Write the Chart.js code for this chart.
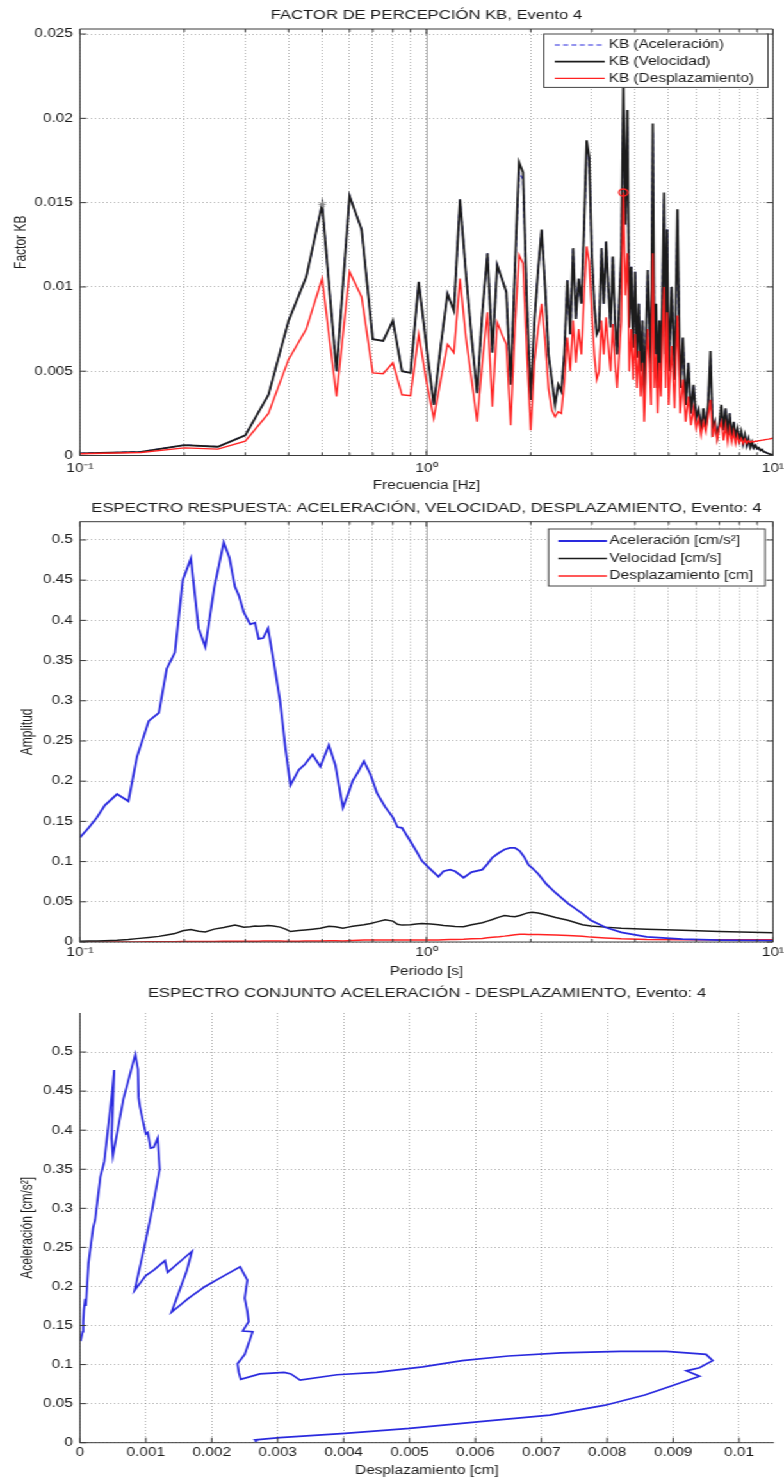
<!DOCTYPE html>
<html>
<head>
<meta charset="utf-8">
<script src="https://cdn.jsdelivr.net/npm/chart.js@4"></script>
<style>
  html, body { margin: 0; padding: 0; background: #fff; }
  /* la figura original está estirada en horizontal: se dibuja a 612px y se escala */
  #figura { position: absolute; left: 0; top: 0; width: 612px; height: 1477px; transform: scaleX(1.281); transform-origin: 0 0; }
  #figura canvas { position: absolute; left: 0; }
</style>
</head>
<body>
<div id="figura">
  <canvas id="kb" width="612" height="494" style="top:0px"></canvas>
  <canvas id="espectro" width="612" height="486" style="top:494px"></canvas>
  <canvas id="conjunto" width="612" height="497" style="top:980px"></canvas>
</div>
<script>
//-------------------------------------Datos: factor KB, Evento 4-------------------------------------
const freqHz = [
  0.10, 0.15, 0.20, 0.25, 0.30, 0.35, 0.40, 0.45, 0.50, 0.55,
  0.60, 0.65, 0.70, 0.75, 0.80, 0.85, 0.90, 0.95, 1.00, 1.05,
  1.10, 1.15, 1.20, 1.25, 1.30, 1.35, 1.40, 1.45, 1.50, 1.55,
  1.60, 1.65, 1.70, 1.75, 1.80, 1.85, 1.90, 1.95, 2.00, 2.05,
  2.10, 2.15, 2.20, 2.25, 2.30, 2.35, 2.40, 2.45, 2.50, 2.55,
  2.60, 2.65, 2.70, 2.75, 2.80, 2.85, 2.90, 2.95, 3.00, 3.05,
  3.10, 3.15, 3.20, 3.25, 3.30, 3.35, 3.40, 3.45, 3.50, 3.55,
  3.60, 3.65, 3.70, 3.75, 3.80, 3.85, 3.90, 3.95, 4.00, 4.05,
  4.10, 4.15, 4.20, 4.25, 4.30, 4.35, 4.40, 4.45, 4.50, 4.55,
  4.60, 4.65, 4.70, 4.75, 4.80, 4.85, 4.90, 4.95, 5.00,
  5.1, 5.2, 5.3, 5.4, 5.5, 5.6, 5.7, 5.8, 5.9, 6.0,
  6.1, 6.2, 6.3, 6.4, 6.5, 6.6, 6.7, 6.8, 6.9, 7.0,
  7.1, 7.2, 7.3, 7.4, 7.5, 7.6, 7.7, 7.8, 7.9, 8.0,
  8.1, 8.2, 8.3, 8.4, 8.5, 8.6, 8.7, 8.8, 8.9, 9.0,
  9.1, 9.2, 9.3, 9.4, 9.5, 9.6, 9.7, 9.8, 9.9, 10.0
];
const kbAceleracion = [
  0.00013, 0.00022, 0.00062, 0.00052, 0.00120, 0.00360, 0.00800, 0.01060, 0.01490, 0.00500,
  0.01540, 0.01340, 0.00690, 0.00680, 0.00800, 0.00500, 0.00490, 0.01030, 0.00650, 0.00300,
  0.00650, 0.00960, 0.00860, 0.01520, 0.01080, 0.00700, 0.00370, 0.00850, 0.01200, 0.00610,
  0.01130, 0.01050, 0.00970, 0.00420, 0.01100, 0.01680, 0.01640, 0.00900, 0.00330, 0.00800,
  0.01100, 0.01340, 0.01000, 0.00600, 0.00450, 0.00300, 0.00420, 0.00380, 0.00600, 0.01040,
  0.00720, 0.01230, 0.00810, 0.01050, 0.00900, 0.01350, 0.01820, 0.01770, 0.01200, 0.00900,
  0.00720, 0.00750, 0.01230, 0.00900, 0.01270, 0.01000, 0.00760, 0.01180, 0.00800, 0.00600,
  0.00900, 0.01200, 0.02050, 0.01370, 0.01950, 0.00760, 0.01120, 0.00640, 0.01090, 0.00580,
  0.00900, 0.00500, 0.00800, 0.00350, 0.00700, 0.01100, 0.00800, 0.00500, 0.01920, 0.00600,
  0.00900, 0.00400, 0.00800, 0.00500, 0.01000, 0.01520, 0.00600, 0.01340, 0.00500,
  0.01000, 0.00450, 0.01400, 0.00400, 0.00700, 0.00300, 0.00550, 0.00250, 0.00420, 0.00220,
  0.00270, 0.00150, 0.00280, 0.00160, 0.00300, 0.00580, 0.00150, 0.00200, 0.00110, 0.00180,
  0.00260, 0.00150, 0.00280, 0.00120, 0.00250, 0.00100, 0.00200, 0.00110, 0.00160, 0.00090,
  0.00140, 0.00070, 0.00120, 0.00060, 0.00100, 0.00050, 0.00080, 0.00045, 0.00060, 0.00040,
  0.00045, 0.00030, 0.00035, 0.00022, 0.00020, 0.00015, 0.00012, 0.00008, 0.00005, 0.00002
];
const kbVelocidad = [
  0.00013, 0.00022, 0.00062, 0.00052, 0.00120, 0.00360, 0.00800, 0.01060, 0.01490, 0.00500,
  0.01540, 0.01340, 0.00690, 0.00680, 0.00800, 0.00500, 0.00490, 0.01030, 0.00650, 0.00300,
  0.00650, 0.00960, 0.00860, 0.01520, 0.01080, 0.00700, 0.00370, 0.00850, 0.01200, 0.00610,
  0.01130, 0.01050, 0.00970, 0.00420, 0.01100, 0.01740, 0.01680, 0.00900, 0.00330, 0.00800,
  0.01100, 0.01340, 0.01000, 0.00600, 0.00450, 0.00300, 0.00420, 0.00380, 0.00600, 0.01040,
  0.00720, 0.01230, 0.00810, 0.01050, 0.00900, 0.01350, 0.01870, 0.01770, 0.01200, 0.00900,
  0.00720, 0.00750, 0.01230, 0.00900, 0.01270, 0.01000, 0.00760, 0.01180, 0.00800, 0.00600,
  0.00900, 0.01200, 0.02220, 0.01370, 0.02050, 0.00760, 0.01120, 0.00640, 0.01090, 0.00580,
  0.00900, 0.00500, 0.00800, 0.00350, 0.00700, 0.01100, 0.00800, 0.00500, 0.01970, 0.00600,
  0.00900, 0.00400, 0.00800, 0.00500, 0.01000, 0.01560, 0.00600, 0.01340, 0.00500,
  0.01000, 0.00450, 0.01460, 0.00400, 0.00700, 0.00300, 0.00550, 0.00250, 0.00420, 0.00220,
  0.00270, 0.00150, 0.00280, 0.00160, 0.00300, 0.00620, 0.00150, 0.00200, 0.00110, 0.00180,
  0.00300, 0.00150, 0.00280, 0.00120, 0.00250, 0.00100, 0.00200, 0.00110, 0.00160, 0.00090,
  0.00140, 0.00070, 0.00120, 0.00060, 0.00100, 0.00050, 0.00080, 0.00045, 0.00060, 0.00040,
  0.00045, 0.00030, 0.00035, 0.00022, 0.00020, 0.00015, 0.00012, 0.00008, 0.00005, 0.00002
];
const kbDesplazamiento = [
  0.00010, 0.00018, 0.00045, 0.00038, 0.00085, 0.00250, 0.00570, 0.00750, 0.01050, 0.00350,
  0.01090, 0.00940, 0.00490, 0.00485, 0.00550, 0.00360, 0.00355, 0.00720, 0.00440, 0.00220,
  0.00450, 0.00660, 0.00610, 0.01050, 0.00700, 0.00450, 0.00200, 0.00550, 0.00850, 0.00290,
  0.00790, 0.00720, 0.00660, 0.00180, 0.00750, 0.01190, 0.01140, 0.00600, 0.00150, 0.00550,
  0.00750, 0.00900, 0.00680, 0.00400, 0.00270, 0.00230, 0.00260, 0.00250, 0.00430, 0.00700,
  0.00500, 0.00800, 0.00550, 0.00750, 0.00600, 0.00950, 0.01240, 0.01150, 0.00850, 0.00600,
  0.00450, 0.00500, 0.00800, 0.00600, 0.00820, 0.00650, 0.00500, 0.00780, 0.00550, 0.00400,
  0.00600, 0.00800, 0.01560, 0.00950, 0.01200, 0.00500, 0.00750, 0.00450, 0.00720, 0.00400,
  0.00620, 0.00350, 0.00550, 0.00200, 0.00500, 0.00750, 0.00550, 0.00300, 0.01200, 0.00400,
  0.00600, 0.00250, 0.00550, 0.00350, 0.00700, 0.01000, 0.00400, 0.00850, 0.00300,
  0.00650, 0.00280, 0.00830, 0.00250, 0.00450, 0.00200, 0.00350, 0.00180, 0.00280, 0.00160,
  0.00220, 0.00120, 0.00200, 0.00140, 0.00230, 0.00330, 0.00110, 0.00180, 0.00090, 0.00160,
  0.00200, 0.00090, 0.00180, 0.00080, 0.00160, 0.00080, 0.00140, 0.00070, 0.00120, 0.00075,
  0.00100, 0.00070, 0.00095, 0.00072, 0.00088, 0.00078, 0.00085, 0.00080, 0.00086, 0.00084,
  0.00088, 0.00089, 0.00091, 0.00092, 0.00094, 0.00096, 0.00097, 0.00099, 0.00101, 0.00103
];

//-------------------------------------Datos: espectro de respuesta-------------------------------------
const periodoS = [
  0.100, 0.106, 0.112, 0.118, 0.128, 0.138, 0.146, 0.158, 0.169, 0.178,
  0.188, 0.198, 0.209, 0.220, 0.230, 0.244, 0.260, 0.270, 0.280, 0.288,
  0.297, 0.310, 0.320, 0.328, 0.338, 0.349, 0.362, 0.378, 0.392, 0.405,
  0.428, 0.446, 0.469, 0.494, 0.523, 0.546, 0.574, 0.595, 0.612, 0.636,
  0.660, 0.690, 0.720, 0.760, 0.800, 0.825, 0.850, 0.900, 0.935, 0.970,
  1.030, 1.083, 1.120, 1.170, 1.210, 1.280, 1.350, 1.450, 1.500, 1.550,
  1.620, 1.680, 1.740, 1.800, 1.860, 1.920, 1.970, 2.020, 2.100, 2.220,
  2.360, 2.560, 2.820, 2.980, 3.280, 3.650, 4.320, 5.480, 7.000, 10.00
];
const espAceleracion = [
  0.130, 0.142, 0.155, 0.170, 0.184, 0.175, 0.230, 0.275, 0.285, 0.340,
  0.360, 0.450, 0.477, 0.390, 0.367, 0.440, 0.497, 0.478, 0.442, 0.430,
  0.410, 0.395, 0.397, 0.377, 0.378, 0.390, 0.350, 0.300, 0.240, 0.195,
  0.214, 0.221, 0.233, 0.218, 0.245, 0.220, 0.167, 0.185, 0.200, 0.212,
  0.225, 0.208, 0.185, 0.168, 0.155, 0.143, 0.142, 0.125, 0.113, 0.101,
  0.090, 0.081, 0.088, 0.090, 0.088, 0.080, 0.087, 0.090, 0.097, 0.105,
  0.111, 0.115, 0.117, 0.117, 0.113, 0.105, 0.096, 0.092, 0.085, 0.072,
  0.061, 0.048, 0.0354, 0.0269, 0.0183, 0.0119, 0.0064, 0.0035, 0.0024, 0.0016
];
const espVelocidad = [
  0.0010, 0.0011, 0.0013, 0.0016, 0.0022, 0.0030, 0.0042, 0.0056, 0.0070, 0.0088,
  0.0105, 0.0140, 0.0155, 0.0135, 0.0125, 0.0160, 0.0180, 0.0195, 0.0210, 0.0200,
  0.0185, 0.0190, 0.0200, 0.0195, 0.0200, 0.0205, 0.0200, 0.0185, 0.0160, 0.0130,
  0.0142, 0.0150, 0.0160, 0.0170, 0.0195, 0.0190, 0.0170, 0.0185, 0.0195, 0.0205,
  0.0215, 0.0230, 0.0250, 0.0275, 0.0260, 0.0220, 0.0210, 0.0215, 0.0225, 0.0230,
  0.0225, 0.0215, 0.0205, 0.0198, 0.0193, 0.0190, 0.0215, 0.0240, 0.0260, 0.0280,
  0.0310, 0.0330, 0.0320, 0.0315, 0.0330, 0.0350, 0.0365, 0.0370, 0.0360, 0.0335,
  0.0305, 0.0270, 0.0215, 0.0200, 0.0185, 0.0172, 0.0160, 0.0145, 0.0130, 0.0115
];
const espDesplazamiento = [
  0.00001, 0.00004, 0.00005, 0.00006, 0.00008, 0.00009, 0.00013, 0.00020, 0.00023, 0.00031,
  0.00037, 0.00049, 0.00052, 0.00048, 0.00050, 0.00066, 0.00084, 0.00088, 0.00089, 0.00091,
  0.00096, 0.00100, 0.00103, 0.00107, 0.00112, 0.00118, 0.00121, 0.00110, 0.00095, 0.00083,
  0.00100, 0.00112, 0.00129, 0.00133, 0.00170, 0.00162, 0.00139, 0.00165, 0.00190, 0.00215,
  0.00243, 0.00254, 0.00250, 0.00254, 0.00256, 0.00247, 0.00262, 0.00255, 0.00250, 0.00239,
  0.00241, 0.00244, 0.00273, 0.00310, 0.00320, 0.00334, 0.00390, 0.00450, 0.00520, 0.00580,
  0.00650, 0.00730, 0.00820, 0.00890, 0.00950, 0.00960, 0.00940, 0.00920, 0.00940, 0.00895,
  0.00857, 0.00797, 0.00713, 0.00607, 0.00500, 0.00402, 0.00303, 0.00266, 0.00268, 0.00265
];

//-------------------------------------Ticks-------------------------------------
const LOG_TICKS = [0.1, 0.2, 0.3, 0.4, 0.5, 0.6, 0.7, 0.8, 0.9, 1, 2, 3, 4, 5, 6, 7, 8, 9, 10];
const LOG_LABELS = { 0.1: '10⁻¹', 1: '10⁰', 10: '10¹' };
const KB_TICKS = [0, 0.005, 0.01, 0.015, 0.02, 0.025];
const AMP_TICKS = [0, 0.05, 0.1, 0.15, 0.2, 0.25, 0.3, 0.35, 0.4, 0.45, 0.5];
const DESP_TICKS = [0, 0.001, 0.002, 0.003, 0.004, 0.005, 0.006, 0.007, 0.008, 0.009, 0.01];

const FONT = "'Liberation Sans', Arial, Helvetica, sans-serif";
const INK = '#1a1a1a';
const GRID = 'rgba(0,0,0,0.30)';
const AXIS_W = 62.4;
const AZUL = '#2a2ade', NEGRO = '#1c1c1c', ROJO = '#ff2222';

const tickFont = { family: FONT, size: 12, lineHeight: 1 };
const numLabel = v => String(parseFloat(Number(v).toFixed(4)));

function pares(xs, ys) {
  return xs.map((x, i) => ({ x: x, y: ys[i] }));
}

//-------------------------------------Ejes-------------------------------------
function ejeLog(titulo, tickPad, alto, titlePad) {
  return {
    type: 'logarithmic', min: 0.1, max: 10,
    afterBuildTicks: s => { s.ticks = LOG_TICKS.map(v => ({ value: v })); },
    afterFit: s => { s.height = alto; s.paddingLeft = 0; s.paddingRight = 0; },
    ticks: { autoSkip: false, maxRotation: 0, padding: tickPad, color: INK, font: tickFont,
             callback: v => LOG_LABELS[v] || '' },
    grid: { color: GRID, lineWidth: 1, drawTicks: false },
    border: { display: false, dash: [1, 2] },
    title: { display: true, text: titulo, color: INK, font: tickFont, padding: { top: 0, bottom: titlePad } }
  };
}

function ejeLineal(min, max, ticksArr, titulo, titlePad) {
  return {
    type: 'linear', min: min, max: max,
    afterBuildTicks: s => { s.ticks = ticksArr.map(v => ({ value: v })); },
    afterFit: s => { s.width = AXIS_W; s.paddingTop = 0; s.paddingBottom = 0; },
    ticks: { autoSkip: false, padding: 5.5, color: INK, font: tickFont, callback: numLabel },
    grid: { color: GRID, lineWidth: 1, drawTicks: false },
    border: { display: false, dash: [1, 2] },
    title: { display: true, text: titulo, color: INK, font: tickFont, padding: { top: titlePad, bottom: 0 } }
  };
}

//-------------------------------------Plugins: marco y leyenda-------------------------------------
const marco = {
  id: 'marco',
  beforeDatasetsDraw(chart, args, o) {
    if (!o.solidX) return;
    const { ctx, chartArea: a, scales: { x } } = chart;
    ctx.save();
    ctx.strokeStyle = 'rgba(0,0,0,0.32)';
    ctx.lineWidth = 1;
    o.solidX.forEach(v => {
      const px = Math.round(x.getPixelForValue(v)) + 0.5;
      ctx.beginPath(); ctx.moveTo(px, a.top); ctx.lineTo(px, a.bottom); ctx.stroke();
    });
    ctx.restore();
  },
  afterDatasetsDraw(chart, args, o) {
    const { ctx, chartArea: a, scales: { x, y } } = chart;
    const seg = (x1, y1, x2, y2) => { ctx.beginPath(); ctx.moveTo(x1, y1); ctx.lineTo(x2, y2); ctx.stroke(); };
    ctx.save();
    ctx.strokeStyle = '#3a3a3a';
    ctx.lineWidth = 1;
    x.ticks.forEach(t => {
      const px = x.getPixelForValue(t.value);
      const len = t.label ? 5 : 3;
      seg(px, a.bottom, px, a.bottom - len);
      if (o.box) seg(px, a.top, px, a.top + len);
    });
    y.ticks.forEach(t => {
      const py = y.getPixelForValue(t.value);
      seg(a.left, py, a.left + 5, py);
      if (o.box) seg(a.right, py, a.right - 5, py);
    });
    seg(a.left, a.top, a.left, a.bottom);
    seg(a.left, a.bottom, a.right, a.bottom);
    if (o.box) {
      seg(a.left, a.top, a.right, a.top);
      seg(a.right, a.top, a.right, a.bottom);
    }
    ctx.restore();
  }
};

const leyenda = {
  id: 'leyenda',
  afterDraw(chart, args, o) {
    if (!o.show) return;
    const { ctx, chartArea: a } = chart;
    const sets = chart.data.datasets;
    const left = a.right - o.right - o.width;
    const top = a.top + o.top;
    const h = o.padTop + (sets.length - 1) * o.rowH + o.padBottom;
    ctx.save();
    ctx.fillStyle = '#fff';
    ctx.fillRect(left, top, o.width, h);
    ctx.strokeStyle = '#444';
    ctx.lineWidth = 1;
    ctx.strokeRect(left, top, o.width, h);
    ctx.font = '12px ' + FONT;
    ctx.textBaseline = 'middle';
    ctx.textAlign = 'left';
    sets.forEach((ds, i) => {
      const yy = top + o.padTop + i * o.rowH;
      ctx.strokeStyle = ds.borderColor;
      ctx.lineWidth = ds.borderWidth;
      ctx.setLineDash(ds.borderDash || []);
      ctx.beginPath();
      ctx.moveTo(left + o.lineX, yy);
      ctx.lineTo(left + o.lineX + o.lineLen, yy);
      ctx.stroke();
      ctx.setLineDash([]);
      ctx.fillStyle = INK;
      ctx.fillText(ds.label, left + o.textX, yy);
    });
    ctx.restore();
  }
};

function tituloGrafico(texto, padTop, padBottom) {
  return {
    display: true, text: texto, fullSize: false, color: INK,
    font: { family: FONT, size: 13, weight: 'normal', lineHeight: 1 },
    padding: { top: padTop, bottom: padBottom }
  };
}

function base(padRight) {
  return {
    responsive: false,
    animation: false,
    events: [],
    layout: { padding: { left: 0, top: 0, bottom: 0, right: padRight } },
    elements: { line: { tension: 0 }, point: { radius: 0 } }
  };
}

//-------------------------------------Gráfico 1: factor KB-------------------------------------
const IDX_MAX_DESP = freqHz.indexOf(3.70);
const IDX_MAX_VEL = freqHz.indexOf(0.50);

new Chart(document.getElementById('kb'), {
  type: 'line',
  data: {
    datasets: [
      { label: 'KB (Aceleración)', data: pares(freqHz, kbAceleracion), borderColor: AZUL, borderWidth: 1.2,
        borderDash: [4, 2.5], order: 3 },
      { label: 'KB (Velocidad)', data: pares(freqHz, kbVelocidad), borderColor: NEGRO, borderWidth: 1.8, order: 2,
        pointStyle: 'star', pointBorderColor: '#888', pointBorderWidth: 1,
        pointRadius: c => c.dataIndex === IDX_MAX_VEL ? 3 : 0 },
      { label: 'KB (Desplazamiento)', data: pares(freqHz, kbDesplazamiento), borderColor: ROJO, borderWidth: 1.4, order: 0,
        pointStyle: 'circle', pointBorderColor: ROJO, pointBackgroundColor: 'rgba(0,0,0,0)', pointBorderWidth: 1.3,
        pointRadius: c => c.dataIndex === IDX_MAX_DESP ? 3.5 : 0 }
    ]
  },
  options: Object.assign(base(8.6), {
    scales: {
      x: ejeLog('Frecuencia [Hz]', 7.5, 38.5, 2),
      y: ejeLineal(0, 0.0253, KB_TICKS, 'Factor KB', 10.4)
    },
    plugins: {
      legend: { display: false },
      title: tituloGrafico('FACTOR DE PERCEPCIÓN KB, Evento 4', 9, 7),
      marco: { box: true, solidX: [1] },
      leyenda: { show: true, right: 3.9, width: 175, top: 5, padTop: 11, rowH: 16.7, padBottom: 9,
                 lineX: 8.6, lineLen: 39, textX: 50.7 }
    }
  }),
  plugins: [marco, leyenda]
});

//-------------------------------------Gráfico 2: espectro de respuesta-------------------------------------
new Chart(document.getElementById('espectro'), {
  type: 'line',
  data: {
    datasets: [
      { label: 'Aceleración [cm/s²]', data: pares(periodoS, espAceleracion), borderColor: AZUL, borderWidth: 1.8, order: 0 },
      { label: 'Velocidad [cm/s]', data: pares(periodoS, espVelocidad), borderColor: NEGRO, borderWidth: 1.5, order: 1 },
      { label: 'Desplazamiento [cm]', data: pares(periodoS, espDesplazamiento), borderColor: ROJO, borderWidth: 1.5, order: 2 }
    ]
  },
  options: Object.assign(base(8.6), {
    scales: {
      x: ejeLog('Periodo [s]', 5, 38, 2),
      y: ejeLineal(0, 0.5227, AMP_TICKS, 'Amplitud', 15.9)
    },
    plugins: {
      legend: { display: false },
      title: tituloGrafico('ESPECTRO RESPUESTA: ACELERACIÓN, VELOCIDAD, DESPLAZAMIENTO, Evento: 4', 8, 6.7),
      marco: { box: true, solidX: [1] },
      leyenda: { show: true, right: 6.2, width: 169, top: 7.3, padTop: 12, rowH: 17.5, padBottom: 10,
                 lineX: 7.6, lineLen: 38, textX: 47.6 }
    }
  }),
  plugins: [marco, leyenda]
});

//-------------------------------------Gráfico 3: espectro conjunto-------------------------------------
const ejeDesp = ejeLineal(0, 0.01053, DESP_TICKS, 'Desplazamiento [cm]', 0);
ejeDesp.afterFit = s => { s.height = 34.3; s.paddingLeft = 0; s.paddingRight = 0; };
ejeDesp.ticks = { autoSkip: false, maxRotation: 0, padding: 4.3, color: INK, font: tickFont, callback: numLabel };
ejeDesp.title.padding = { top: 0, bottom: 0 };

new Chart(document.getElementById('conjunto'), {
  type: 'scatter',
  data: {
    datasets: [
      { label: 'Aceleración - Desplazamiento', data: pares(espDesplazamiento, espAceleracion),
        showLine: true, borderColor: AZUL, borderWidth: 1.7, pointRadius: 0 }
    ]
  },
  options: Object.assign(base(7.8), {
    scales: {
      x: ejeDesp,
      y: ejeLineal(0, 0.55, AMP_TICKS, 'Aceleración [cm/s²]', 15.9)
    },
    plugins: {
      legend: { display: false },
      title: tituloGrafico('ESPECTRO CONJUNTO ACELERACIÓN - DESPLAZAMIENTO, Evento: 4', 7, 13),
      marco: { box: false },
      leyenda: { show: false }
    }
  }),
  plugins: [marco, leyenda]
});
</script>
</body>
</html>
